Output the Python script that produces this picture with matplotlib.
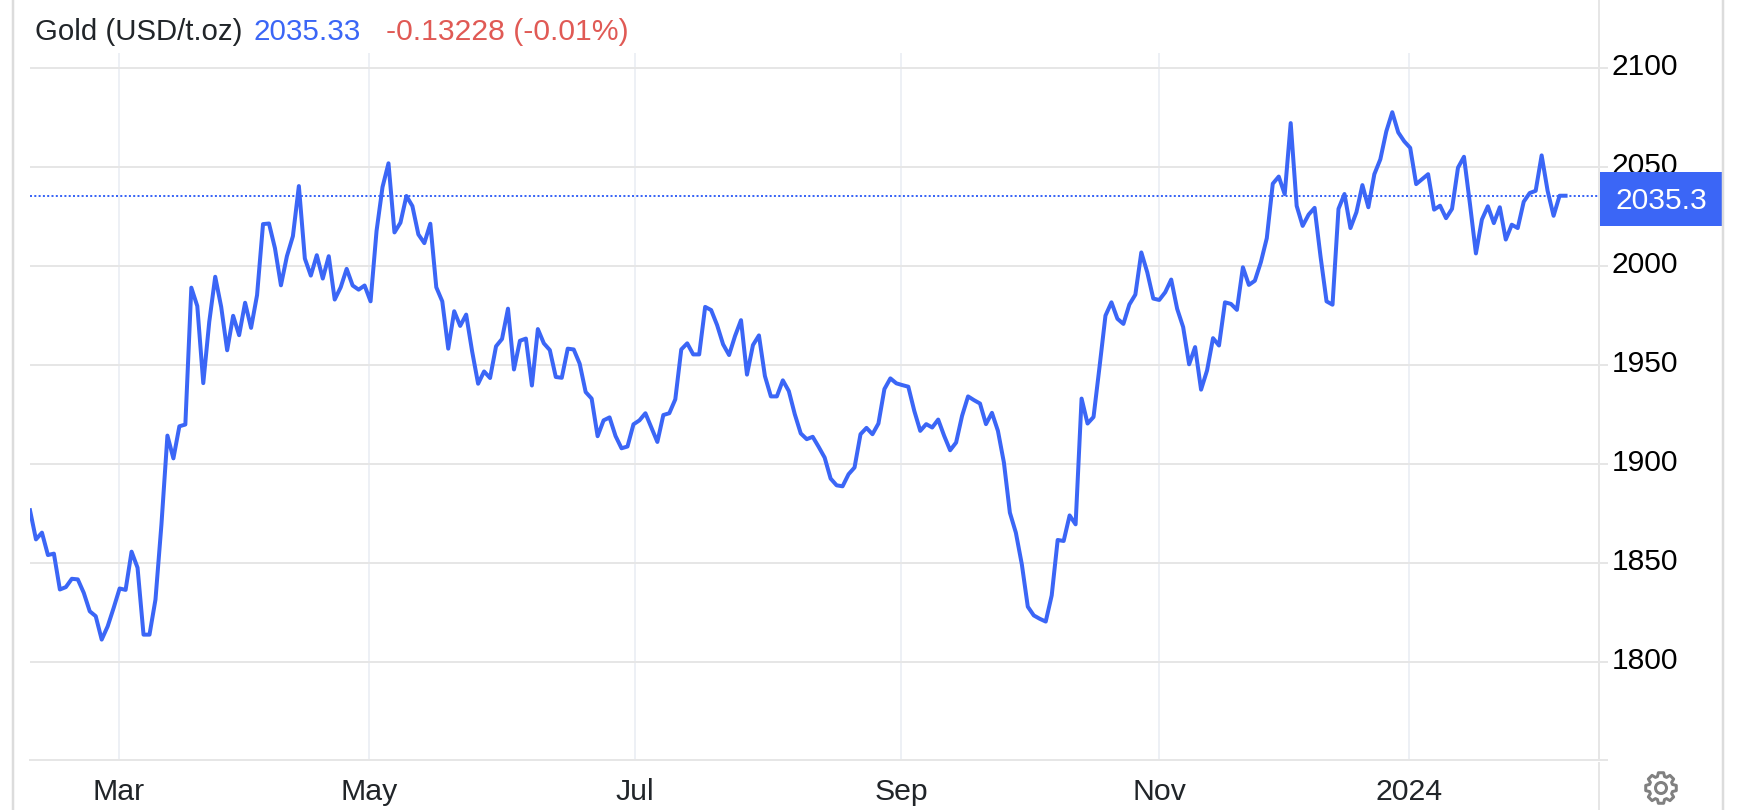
import numpy as np
import matplotlib
matplotlib.use("Agg")
import matplotlib.pyplot as plt
from matplotlib.patches import Polygon, Circle, Rectangle
from matplotlib.transforms import ScaledTranslation

plt.rcParams['font.family'] = ['Liberation Sans', 'DejaVu Sans']

# daily gold price, one value per trading day
gold_prices = [
    1876.5, 1861.8, 1865.2, 1853.9, 1854.6, 1836.5, 1837.7, 1841.9, 1841.6, 1834.8,
    1825.5, 1823.0, 1811.2, 1817.9, 1827.2, 1837.0, 1836.3, 1855.6, 1847.5, 1813.7,
    1813.7, 1831.4, 1869.4, 1914.2, 1902.7, 1918.9, 1919.8, 1988.9, 1979.6, 1940.7,
    1971.6, 1994.4, 1979.2, 1957.3, 1974.7, 1964.9, 1981.3, 1968.6, 1985.1, 2021.0,
    2021.3, 2008.8, 1990.1, 2004.8, 2014.9, 2040.2, 2003.6, 1995.0, 2005.3, 1993.5,
    2004.8, 1982.9, 1989.1, 1998.4, 1990.0, 1987.9, 1990.0, 1982.0, 2017.5, 2039.7,
    2051.7, 2016.8, 2021.7, 2035.2, 2030.1, 2015.8, 2011.4, 2021.2, 1989.1, 1982.0,
    1958.1, 1977.0, 1969.6, 1975.3, 1956.7, 1940.4, 1946.6, 1943.3, 1959.3, 1963.0,
    1978.3, 1947.6, 1962.1, 1963.2, 1939.5, 1968.0, 1960.8, 1957.4, 1943.8, 1943.4,
    1958.1, 1957.7, 1950.5, 1936.2, 1932.9, 1913.9, 1921.9, 1923.4, 1914.0, 1907.8,
    1908.7, 1919.9, 1921.9, 1925.5, 1918.2, 1911.0, 1924.6, 1925.5, 1932.5, 1957.7,
    1960.8, 1955.2, 1955.2, 1979.2, 1977.6, 1970.0, 1960.3, 1954.9, 1964.5, 1972.5,
    1945.0, 1959.9, 1964.8, 1944.3, 1934.0, 1934.0, 1942.1, 1936.7, 1925.0, 1915.3,
    1912.4, 1913.6, 1908.5, 1903.1, 1892.5, 1889.1, 1888.6, 1894.7, 1898.1, 1914.9,
    1918.1, 1914.9, 1920.3, 1937.7, 1943.1, 1940.6, 1939.7, 1938.9, 1926.7, 1916.6,
    1920.0, 1918.3, 1922.3, 1914.1, 1906.8, 1910.7, 1924.2, 1934.0, 1932.1, 1930.4,
    1920.0, 1925.7, 1916.6, 1900.6, 1875.3, 1865.2, 1849.2, 1827.8, 1823.4, 1821.7,
    1820.3, 1833.5, 1861.5, 1861.0, 1873.9, 1869.4, 1932.9, 1920.3, 1923.6, 1948.8,
    1974.8, 1981.5, 1973.2, 1970.6, 1980.4, 1985.4, 2006.7, 1996.6, 1983.4, 1982.7,
    1986.6, 1993.0, 1978.2, 1969.0, 1950.2, 1958.9, 1937.4, 1947.1, 1963.4, 1959.7,
    1981.5, 1980.7, 1977.7, 1999.2, 1990.3, 1992.4, 2001.7, 2013.9, 2041.4, 2045.0,
    2036.1, 2072.0, 2030.2, 2020.1, 2025.8, 2029.2, 2004.5, 1982.0, 1980.3, 2028.7,
    2036.2, 2019.0, 2027.0, 2040.7, 2029.5, 2046.2, 2053.7, 2067.8, 2077.5, 2067.3,
    2062.8, 2059.5, 2041.2, 2043.7, 2046.2, 2028.3, 2030.3, 2024.0, 2028.7, 2049.5,
    2055.0, 2031.2, 2006.2, 2023.3, 2030.0, 2021.5, 2029.5, 2013.2, 2020.7, 2019.0,
    2032.3, 2036.7, 2037.8, 2055.7, 2037.8, 2025.2, 2035.33, 2035.33,
]
last_price = 2035.33
month_ticks = [14.9, 56.7, 101.3, 145.8, 189.0, 230.8]
month_labels = ['Mar', 'May', 'Jul', 'Sep', 'Nov', '2024']
price_ticks = [1800, 1850, 1900, 1950, 2000, 2050, 2100]

W, H = 1742, 810
LEFT, RIGHT, TOP, BOTTOM = 30, 1599, 53, 760
BLUE = '#3b66f6'
GRID = '#e6e6e6'
px = 0.72  # one pixel in points at dpi 100

fig = plt.figure(figsize=(W / 100, H / 100), dpi=100, facecolor='white')
ax = fig.add_axes([LEFT / W, 1 - BOTTOM / H, (RIGHT - LEFT) / W, (BOTTOM - TOP) / H])

ax.plot(range(len(gold_prices)), gold_prices, color=BLUE, lw=4 * px, zorder=4)
ax.axhline(last_price, color=BLUE, lw=2 * px, linestyle=(0, (1.0, 1.15)), zorder=3)

ax.set_xlim(0, 262.6)
ax.set_ylim(1750.4, 2107.4)
ax.set_xticks(month_ticks, month_labels)
ax.set_yticks(price_ticks)
ax.yaxis.tick_right()
ax.grid(axis='y', color=GRID, lw=2 * px)
ax.grid(axis='x', color='#edf0f5', lw=2 * px)
ax.set_axisbelow(True)
for name in ['top', 'left', 'right']:
    ax.spines[name].set_visible(False)
ax.spines['bottom'].set_color(GRID)
ax.spines['bottom'].set_linewidth(2 * px)
ax.tick_params(axis='x', length=0, labelsize=21.8, labelcolor='#212529', pad=13)
ax.tick_params(axis='y', length=0, labelsize=21.6, labelcolor='black', pad=9)
# short stubs to the right of the axis, next to the price labels
ax.hlines(price_ticks + [1750.4], 1, 1 + 9 / (RIGHT - LEFT), transform=ax.get_yaxis_transform(),
          color=GRID, lw=2 * px, clip_on=False)
# price labels sit a little above their grid lines
for label in ax.get_yticklabels():
    label.set_transform(label.get_transform() + ScaledTranslation(0, 4 / 100, fig.dpi_scale_trans))

# everything around the plot, in pixel coordinates of the figure
over = fig.add_axes([0, 0, 1, 1], zorder=5)
over.set_xlim(0, W)
over.set_ylim(H, 0)
over.axis('off')
over.patch.set_alpha(0)

over.plot([13, 13], [0, H], color='#dcdcdc', lw=2.5 * px)
over.plot([1723, 1723], [0, H], color='#dcdcdc', lw=2.5 * px)
over.plot([RIGHT, RIGHT], [0, 760], color=GRID, lw=2 * px)
over.plot([RIGHT, RIGHT], [763, H], color=GRID, lw=2 * px)

over.add_patch(Rectangle((1600, 172), 122, 53.7, color=BLUE, lw=0))
over.text(1661, 201, '2035.3', color='white', fontsize=21.6, ha='center', va='center')

over.text(35, 40, 'Gold (USD/t.oz)', color='#212529', fontsize=21.2, va='baseline')
over.text(253, 40, '2035.33', color=BLUE, fontsize=21.3, va='baseline')
over.text(386, 40, '-0.13228 (-0.01%)', color='#e05a55', fontsize=21.7, va='baseline')

# settings gear
cx, cy = 1661, 788
gear_angles, gear_radii = [], []
for i in range(8):
    a = i * np.pi / 4
    gear_angles += [a - 0.30, a - 0.17, a + 0.17, a + 0.30]
    gear_radii += [12, 15.5, 15.5, 12]
gear_angles = np.array(gear_angles)
gear_radii = np.array(gear_radii)
over.add_patch(Polygon(np.column_stack([cx + gear_radii * np.cos(gear_angles),
                                        cy + gear_radii * np.sin(gear_angles)]),
                       closed=True, fill=False, ec='#808080', lw=3 * px, joinstyle='round'))
over.add_patch(Circle((cx, cy), 5.5, fill=False, ec='#808080', lw=3 * px))

fig.savefig('out.png', dpi=100)
